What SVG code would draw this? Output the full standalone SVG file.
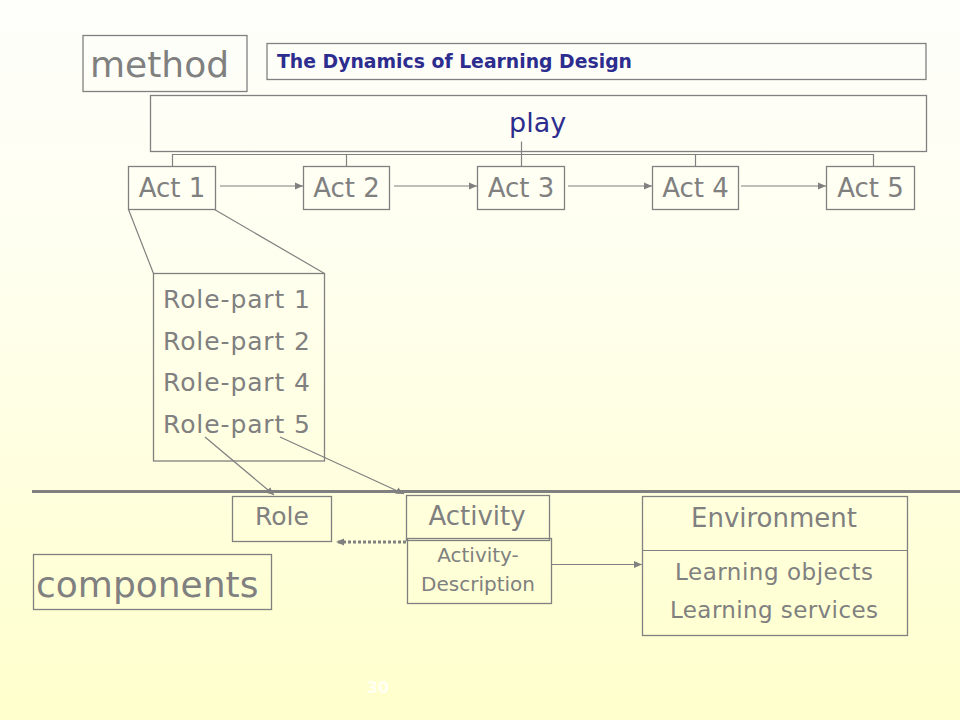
<svg xmlns="http://www.w3.org/2000/svg" width="960" height="720" viewBox="0 0 960 720">
<defs>
<linearGradient id="bg" x1="0" y1="0" x2="0" y2="1">
<stop offset="0" stop-color="#fefefb"/>
<stop offset="0.35" stop-color="#fffff0"/>
<stop offset="1" stop-color="#ffffcc"/>
</linearGradient>
<marker id="ah" markerUnits="userSpaceOnUse" markerWidth="10" markerHeight="8" refX="8" refY="4" orient="auto">
<path d="M0,0.5 L8,4 L0,7.5 Z" fill="#808080"/>
</marker>
</defs>
<style>
.box{fill:none;stroke:#808080;stroke-width:1.3}
.ln{fill:none;stroke:#808080;stroke-width:1.2}
.t{font-family:"DejaVu Sans",Verdana,sans-serif;fill:#808080}
.b{font-family:"DejaVu Sans",Verdana,sans-serif;fill:#2d2d8f}
.c{text-anchor:middle}
</style>
<rect width="960" height="720" fill="url(#bg)"/>

<g id="method">
<rect class="box" x="83" y="35.5" width="164" height="56"/>
<text class="t" x="90" y="77" font-size="36">method</text>
</g>

<g id="title">
<rect class="box" x="267" y="43.5" width="659" height="36"/>
<text class="b" x="277" y="68" font-size="19" font-weight="bold" textLength="355" lengthAdjust="spacingAndGlyphs">The Dynamics of Learning Design</text>
</g>

<g id="play">
<rect class="box" x="150.5" y="95.5" width="776" height="56"/>
<text class="b" x="509" y="132" font-size="27">play</text>
</g>

<g id="act1">
<rect class="box" x="128.5" y="166.5" width="87" height="43"/>
<text class="t c" x="172" y="197" font-size="26">Act 1</text>
</g>
<g id="act2">
<rect class="box" x="303.5" y="166.5" width="86" height="43"/>
<text class="t c" x="346.5" y="197" font-size="26">Act 2</text>
</g>
<g id="act3">
<rect class="box" x="477.5" y="166.5" width="87" height="43"/>
<text class="t c" x="521" y="197" font-size="26">Act 3</text>
</g>
<g id="act4">
<rect class="box" x="652.5" y="166.5" width="86" height="43"/>
<text class="t c" x="695.5" y="197" font-size="26">Act 4</text>
</g>
<g id="act5">
<rect class="box" x="826.5" y="166.5" width="88" height="43"/>
<text class="t c" x="870.5" y="197" font-size="26">Act 5</text>
</g>

<g id="roleparts">
<rect class="box" x="153.5" y="273.5" width="171" height="187.5"/>
<text class="t" x="163" y="308" font-size="25" textLength="147">Role-part 1</text>
<text class="t" x="163" y="349.5" font-size="25" textLength="147">Role-part 2</text>
<text class="t" x="163" y="391" font-size="25" textLength="147">Role-part 4</text>
<text class="t" x="163" y="432.5" font-size="25" textLength="147">Role-part 5</text>
</g>

<g id="role">
<rect class="box" x="232.5" y="496.5" width="99" height="45"/>
<text class="t c" x="282" y="525" font-size="25">Role</text>
</g>

<g id="activity">
<rect class="box" x="406.5" y="495.5" width="143" height="45"/>
<text class="t c" x="477" y="525" font-size="26">Activity</text>
</g>

<g id="activity-description">
<rect class="box" x="407.5" y="538.5" width="144" height="65"/>
<text class="t c" x="478" y="562" font-size="20">Activity-</text>
<text class="t c" x="478" y="591" font-size="20">Description</text>
</g>

<g id="components">
<rect class="box" x="33.5" y="554.5" width="238" height="55"/>
<text class="t" x="36" y="597" font-size="36">components</text>
</g>

<g id="environment">
<rect class="box" x="642.5" y="496.5" width="265" height="139"/>
<line class="ln" x1="642.5" y1="550.5" x2="907.5" y2="550.5"/>
<text class="t c" x="774" y="527" font-size="26">Environment</text>
<text class="t c" x="774" y="580" font-size="23" textLength="198">Learning objects</text>
<text class="t c" x="774" y="618" font-size="23" textLength="208">Learning services</text>
</g>

<g id="connectors">
<polyline class="ln" points="172.5,166 172.5,154.5 873.5,154.5 873.5,166"/>
<line class="ln" x1="346.5" y1="154.5" x2="346.5" y2="166"/>
<line class="ln" x1="521.5" y1="141.5" x2="521.5" y2="166"/>
<line class="ln" x1="695.5" y1="154.5" x2="695.5" y2="166"/>
<line class="ln" x1="220" y1="186" x2="303" y2="186" marker-end="url(#ah)"/>
<line class="ln" x1="394" y1="186" x2="477" y2="186" marker-end="url(#ah)"/>
<line class="ln" x1="568" y1="186" x2="652" y2="186" marker-end="url(#ah)"/>
<line class="ln" x1="741" y1="186" x2="826" y2="186" marker-end="url(#ah)"/>
<line class="ln" x1="128.5" y1="209.5" x2="153.5" y2="273.5"/>
<line class="ln" x1="214.5" y1="209.5" x2="324.5" y2="273.5"/>
<line x1="32" y1="491.5" x2="960" y2="491.5" stroke="#808080" stroke-width="3"/>
<line class="ln" x1="205" y1="437" x2="274" y2="495" marker-end="url(#ah)"/>
<line class="ln" x1="280" y1="437" x2="404" y2="494" marker-end="url(#ah)"/>
<line x1="406" y1="542" x2="336" y2="542" stroke="#808080" stroke-width="3" stroke-dasharray="3,2" marker-end="url(#ah)"/>
<line class="ln" x1="552" y1="564.5" x2="642" y2="564.5" marker-end="url(#ah)"/>
</g>

<text x="378" y="693" font-family="DejaVu Sans,sans-serif" font-size="16" font-weight="bold" fill="#fffff4" text-anchor="middle">30</text>
</svg>
